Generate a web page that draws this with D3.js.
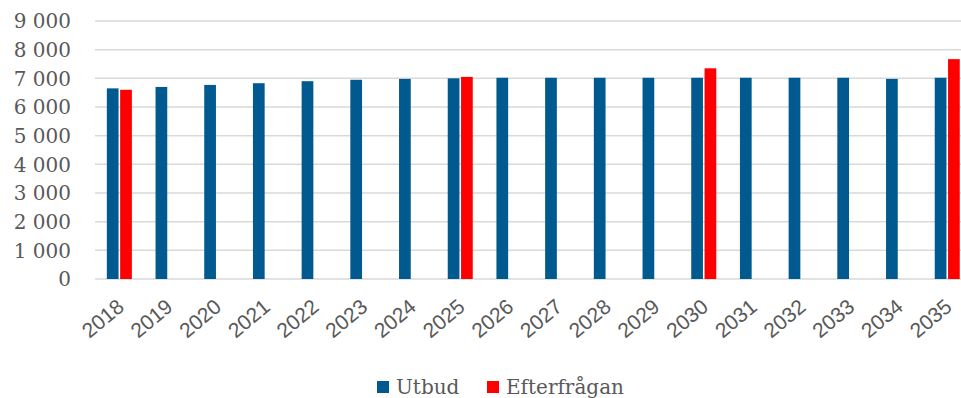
<!DOCTYPE html>
<html>
<head>
<meta charset="utf-8">
<script src="https://cdn.jsdelivr.net/npm/d3@7"></script>
<style>
  body { margin: 0; background: #fff; overflow: hidden; }
  svg { display: block; }
</style>
</head>
<body>
<svg id="chart" width="961" height="398"></svg>
<script>
// data
const years = ["2018", "2019", "2020", "2021", "2022", "2023", "2024", "2025", "2026",
    "2027", "2028", "2029", "2030", "2031", "2032", "2033", "2034", "2035"];
const utbud = [6650, 6700, 6770, 6830, 6900, 6950, 6980, 7000, 7020,
    7020, 7020, 7020, 7020, 7020, 7020, 7020, 6980, 7020];
const efterfragan = [6600, null, null, null, null, null, null, 7050, null,
    null, null, null, 7350, null, null, null, null, 7670];
const seriesNames = ["Utbud", "Efterfrågan"];
const seriesColors = ["#00598f", "#ff0000"];
const yTicks = [0, 1000, 2000, 3000, 4000, 5000, 6000, 7000, 8000, 9000];

const svg = d3.select("#chart");
const plotLeft = 95, slot = 48.7;
const plotTop = 21, plotBottom = 279;

const x = d3.scaleBand()
    .domain(years)
    .range([plotLeft, plotLeft + slot * years.length]);
const xs = d3.scaleBand()
    .domain(seriesNames)
    .range([slot * 0.243, slot * 0.757])
    .paddingInner(0.12);
const y = d3.scaleLinear()
    .domain([0, 9000])
    .range([plotBottom, plotTop]);

// gridlines
svg.append("g")
    .selectAll("line")
    .data(yTicks)
    .enter().append("line")
    .attr("x1", plotLeft)
    .attr("x2", 961)
    .attr("y1", d => y(d))
    .attr("y2", d => y(d))
    .attr("stroke", "#d9d9d9")
    .attr("stroke-width", 1.5);

// y labels
const fmt = d => d3.format(",")(d).replace(",", " ");
svg.append("g")
    .selectAll("text")
    .data(yTicks)
    .enter().append("text")
    .attr("x", 71)
    .attr("y", d => y(d))
    .attr("dy", "0.36em")
    .attr("text-anchor", "end")
    .style("font-family", "'DejaVu Serif', serif")
    .style("font-size", "20px")
    .attr("fill", "#595959")
    .text(fmt);

// bars
const rows = years.map((yr, i) => ({ year: yr, values: [utbud[i], efterfragan[i]] }));
const groups = svg.append("g")
    .selectAll("g")
    .data(rows)
    .enter().append("g")
    .attr("transform", d => `translate(${x(d.year)},0)`);
groups.selectAll("rect")
    .data(d => d.values.map((v, j) => ({ name: seriesNames[j], value: v, color: seriesColors[j] }))
        .filter(e => e.value != null))
    .enter().append("rect")
    .attr("x", d => xs(d.name))
    .attr("y", d => y(d.value))
    .attr("width", xs.bandwidth())
    .attr("height", d => y(0) - y(d.value))
    .attr("fill", d => d.color);

// x labels
svg.append("g")
    .selectAll("text")
    .data(years)
    .enter().append("text")
    .attr("transform", d => `translate(${x(d) + x.bandwidth() / 2 + 6},${plotBottom + 30}) rotate(-40)`)
    .attr("text-anchor", "end")
    .style("font-family", "'Liberation Sans', sans-serif")
    .style("font-size", "21px")
    .attr("fill", "#595959")
    .text(d => d);

// legend
const legendX = [377, 487];
const legend = svg.append("g")
    .selectAll("g")
    .data(seriesNames)
    .enter().append("g")
    .attr("transform", (d, i) => `translate(${legendX[i]},381)`);
legend.append("rect")
    .attr("width", 12)
    .attr("height", 12)
    .attr("fill", (d, i) => seriesColors[i]);
legend.append("text")
    .attr("x", 19)
    .attr("y", 13)
    .style("font-family", "'DejaVu Serif', serif")
    .style("font-size", "20px")
    .attr("fill", "#595959")
    .text(d => d);
</script>
</body>
</html>
